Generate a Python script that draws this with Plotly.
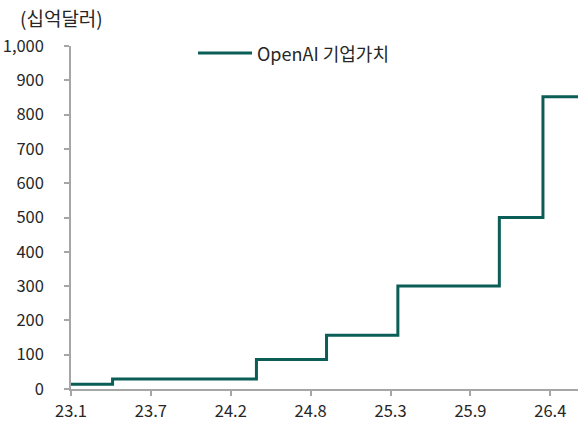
import plotly.graph_objects as go

# Data (valuation in USD billions, step changes)
change_dates = ["2023-01-15", "2023-04-27", "2024-04-14", "2024-10-03",
                "2025-03-27", "2025-12-01", "2026-03-18", "2026-06-12"]
valuation = [14, 29, 86, 157, 300, 500, 852, 852]

tick_dates = ["2023-01-15", "2023-07-30", "2024-02-11", "2024-08-25",
              "2025-03-09", "2025-09-21", "2026-04-05"]
tick_labels = ["23.1", "23.7", "24.2", "24.8", "25.3", "25.9", "26.4"]

y_ticks = list(range(0, 1001, 100))
y_tick_labels = [f"{v:,}" for v in y_ticks]

series_name = "OpenAI 기업가치"
unit_label = "(십억달러)"

line_color = "#0b5e55"
axis_color = "#a6a6a6"
text_color = "#262626"
font_family = "Noto Sans CJK KR"

fig = go.Figure()
fig.add_trace(go.Scatter(
    x=change_dates, y=valuation, mode="lines", line_shape="hv",
    line=dict(color=line_color, width=3), name=series_name, showlegend=False,
))

fig.update_layout(
    width=578, height=423,
    margin=dict(l=71, r=0, t=46, b=34),
    paper_bgcolor="white", plot_bgcolor="white",
    font=dict(family=font_family, size=16.5, color=text_color),
    xaxis=dict(
        type="date", range=[change_dates[0], change_dates[-1]],
        tickmode="array", tickvals=tick_dates, ticktext=tick_labels,
        showgrid=False, zeroline=False, showline=True, linecolor=axis_color, linewidth=1.5,
        ticks="outside", ticklen=5, tickcolor=axis_color, tickwidth=1.5,
        ticklabelstandoff=1,
    ),
    yaxis=dict(
        range=[0, 1000], tickmode="array", tickvals=y_ticks, ticktext=y_tick_labels,
        showgrid=False, zeroline=False, showline=True, linecolor=axis_color, linewidth=1.5,
        ticks="outside", ticklen=5, tickcolor=axis_color, tickwidth=1.5,
        ticklabelstandoff=17,
    ),
)

# Legend drawn as a line sample and label
fig.add_shape(type="line", xref="paper", yref="paper",
              x0=(198 - 71) / 507, x1=(252 - 71) / 507,
              y0=(389.3 - 53) / 343.3, y1=(389.3 - 53) / 343.3,
              line=dict(color=line_color, width=3))
fig.add_annotation(text=series_name, xref="paper", yref="paper",
                   x=(255 - 71) / 507, y=(389.3 - 53) / 343.3,
                   xanchor="left", yanchor="middle", showarrow=False,
                   font=dict(size=18, color=text_color))
fig.add_annotation(text=unit_label, xref="paper", yref="paper",
                   x=(18 - 71) / 507, y=(389.3 - 17) / 343.3,
                   xanchor="left", yanchor="middle", showarrow=False,
                   font=dict(size=19, color=text_color))

fig.write_html("out.html", config={"displayModeBar": False},
               post_script="document.body.style.margin='0';document.body.style.padding='0';document.body.style.overflow='hidden';")
